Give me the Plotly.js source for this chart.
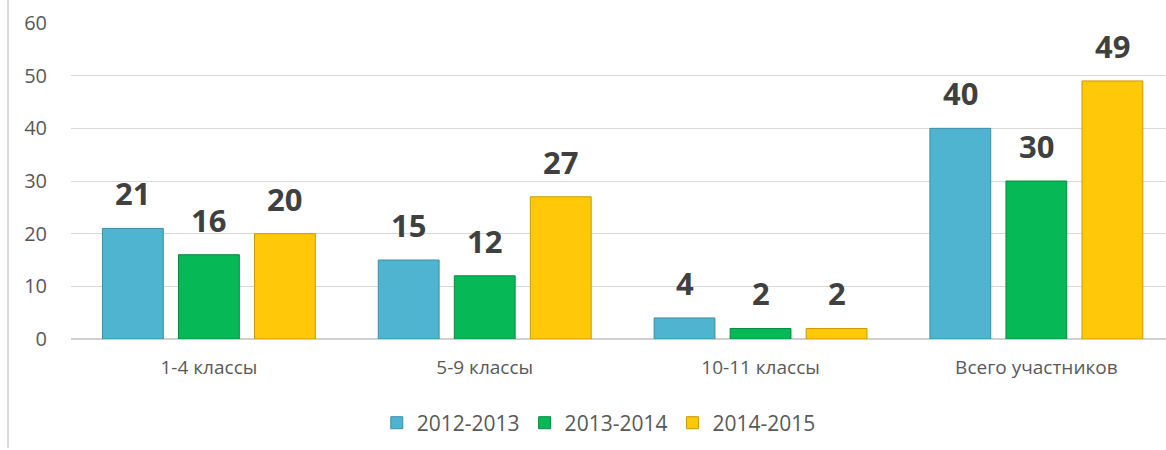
<!DOCTYPE html>
<html>
<head>
<meta charset="utf-8">
<script src="https://cdn.plot.ly/plotly-3.0.1.min.js"></script>
<style>html,body{margin:0;padding:0;background:#fff;overflow:hidden;}#chart{width:1166px;height:450px;}</style>
</head>
<body>
<div id="chart"></div>
<script>
const categories = ["1-4 классы", "5-9 классы", "10-11 классы", "Всего участников"];
const seriesNames = ["2012-2013", "2013-2014", "2014-2015"];
const values2012 = [21, 15, 4, 40];
const values2013 = [16, 12, 2, 30];
const values2014 = [20, 27, 2, 49];
const yTicks = [0, 10, 20, 30, 40, 50, 60];

const colors = ["#4fb4d0", "#07b857", "#ffc808"];
const edgeColors = ["#3a8fa6", "#058a40", "#c99a00"];
const allValues = [values2012, values2013, values2014];

const traces = allValues.map((vals, i) => ({
  type: "bar",
  name: seriesNames[i],
  x: categories,
  y: vals,
  marker: {color: colors[i], line: {color: edgeColors[i], width: 1}},
  hoverinfo: "none"
}));

const barGap = 0.173;
const slot = (1 - barGap) / 3;
const annotations = [];
allValues.forEach((vals, i) => {
  vals.forEach((v, j) => {
    annotations.push({
      x: j + (i - 1) * slot,
      y: v,
      xref: "x", yref: "y",
      text: String(v),
      showarrow: false,
      yanchor: "bottom",
      yshift: 12,
      font: {family: "Open Sans, sans-serif", size: 31, color: "#404040", weight: "bold"}
    });
  });
});

const layout = {
  width: 1166, height: 450,
  margin: {l: 71, r: 0, t: 23, b: 111},
  paper_bgcolor: "#fff", plot_bgcolor: "#fff",
  barmode: "group",
  bargap: barGap,
  bargroupgap: 0.2,
  font: {family: "Open Sans, sans-serif", color: "#595959"},
  xaxis: {
    type: "category",
    range: [-0.5, 3.47],
    tickfont: {size: 19, color: "#595959"},
    ticks: "", showline: false, showgrid: false,
    ticklabelstandoff: 15
  },
  yaxis: {
    range: [0, 60],
    tickvals: yTicks,
    tickfont: {size: 20, color: "#595959"},
    gridcolor: "#d9d9d9", gridwidth: 1,
    zeroline: true, zerolinecolor: "#d0d0d0", zerolinewidth: 2,
    showline: false, ticks: "",
    ticklabelstandoff: 23
  },
  showlegend: true,
  legend: {
    orientation: "h", x: 0.482, xanchor: "center", y: -0.266, yanchor: "middle",
    font: {size: 21, color: "#595959"},
    itemwidth: 30
  },
  annotations: annotations,
  shapes: [{
    type: "line", xref: "paper", yref: "paper",
    x0: -0.0575, x1: -0.0575, y0: 1.08, y1: -0.345,
    line: {color: "#d9d9d9", width: 2}
  }]
};

Plotly.newPlot("chart", traces, layout, {displayModeBar: false, staticPlot: true});
</script>
</body>
</html>
